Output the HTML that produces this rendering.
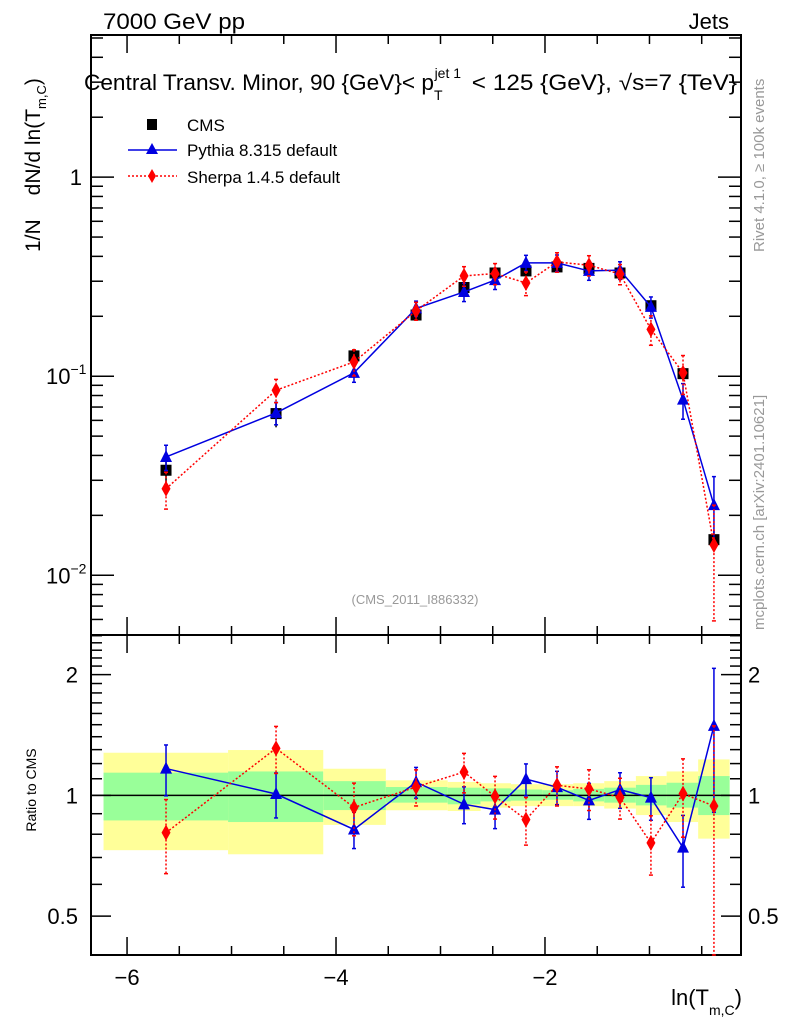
<!DOCTYPE html>
<html><head><meta charset="utf-8"><style>
html,body{margin:0;padding:0;background:#fff;}
svg{display:block;font-family:"Liberation Sans",sans-serif;}
</style></head><body>
<svg id="chart" width="786" height="1024" viewBox="0 0 786 1024" xmlns="http://www.w3.org/2000/svg">
<g id="bands"></g>
<g id="grid"></g>
<g id="marks"></g>
<text x="103" y="29" font-size="22" textLength="142" lengthAdjust="spacingAndGlyphs">7000 GeV pp</text>
<text x="729" y="29" font-size="22" text-anchor="end">Jets</text>
<text x="84" y="90" font-size="22"><tspan textLength="350" lengthAdjust="spacingAndGlyphs">Central Transv. Minor, 90 {GeV}&lt; p</tspan><tspan font-size="14" dy="10">T</tspan><tspan font-size="14" dx="-8" dy="-22">jet 1</tspan><tspan dy="12" dx="4" textLength="272" lengthAdjust="spacingAndGlyphs"> &lt; 125 {GeV}, √s=7 {TeV}</tspan></text>
<g>
 <g><rect x="147" y="119" width="10" height="11" fill="#000"/><text x="187" y="131" font-size="17">CMS</text></g>
 <g><line x1="128" y1="150" x2="177" y2="150" stroke="#0000e0" stroke-width="1.5"/><polygon points="152,143 158,154 146,154" fill="#0000e0"/><text x="187" y="156" font-size="17">Pythia 8.315 default</text></g>
 <g><line x1="128" y1="176" x2="177" y2="176" stroke="#f00" stroke-width="1.5" stroke-dasharray="2,2"/><polygon points="152,169 156,176 152,183 148,176" fill="#f00"/><text x="187" y="183" font-size="17">Sherpa 1.4.5 default</text></g>
</g>
<text x="415" y="604" font-size="13" fill="#999" text-anchor="middle">(CMS_2011_I886332)</text>
<text transform="translate(40,252) rotate(-90)" font-size="21">1/N<tspan dx="24">dN/d ln(T</tspan><tspan font-size="13" dy="6">m,C</tspan><tspan dy="-6">)</tspan></text>
<text transform="translate(36,790) rotate(-90)" font-size="14" text-anchor="middle">Ratio to CMS</text>
<text transform="translate(764,252) rotate(-90)" font-size="15" fill="#999">Rivet 4.1.0, ≥ 100k events</text>
<text transform="translate(764,630) rotate(-90)" font-size="15" fill="#999">mcplots.cern.ch [arXiv:2401.10621]</text>
<text x="742" y="1005" font-size="22" text-anchor="end">ln(T<tspan font-size="14" dy="10">m,C</tspan><tspan dy="-10">)</tspan></text>
</svg>
<script>
const xVals=[-5.627,-4.574,-3.828,-3.234,-2.775,-2.478,-2.182,-1.885,-1.579,-1.282,-0.986,-0.679,-0.383];
const binEdges=[-6.225,-5.033,-4.122,-3.523,-2.931,-2.616,-2.326,-2.025,-1.730,-1.433,-1.130,-0.836,-0.534,-0.233];
const cmsVals=[0.0337,0.0649,0.1265,0.203,0.279,0.330,0.338,0.354,0.348,0.330,0.226,0.103,0.0151];
const cmsTotUp=[1.277,1.297,1.165,1.090,1.080,1.072,1.066,1.066,1.072,1.085,1.117,1.147,1.229];
const cmsTotDn=[0.730,0.713,0.844,0.918,0.914,0.932,0.940,0.940,0.940,0.927,0.893,0.858,0.780];
const cmsStatUp=[1.139,1.147,1.085,1.049,1.045,1.041,1.034,1.030,1.038,1.045,1.062,1.075,1.117];
const cmsStatDn=[0.866,0.858,0.919,0.959,0.950,0.966,0.970,0.975,0.966,0.959,0.944,0.932,0.893];
const pythiaVals=[0.0393,0.0654,0.104,0.219,0.265,0.304,0.371,0.371,0.338,0.341,0.223,0.0763,0.0225];
const pythiaErr=[0.0057,0.0084,0.0108,0.0193,0.0279,0.0314,0.0338,0.0354,0.0348,0.0347,0.0271,0.0155,0.0088];
const sherpaVals=[0.0272,0.085,0.118,0.213,0.319,0.328,0.294,0.375,0.361,0.326,0.172,0.104,0.0142];
const sherpaErr=[0.0057,0.0114,0.0177,0.022,0.036,0.040,0.040,0.042,0.042,0.038,0.029,0.023,0.0083];
const xTicks=[-6,-4,-2];
const yTicks=[1,0.1,0.01];
const yTickLabels=["1","10","10"];
const yTickExp=["","−1","−2"];
const rTicks=[0.5,1,2];
const rTickLabels=["0.5","1","2"];

const NS="http://www.w3.org/2000/svg";
const L=91,R=741,T=35,M=635,B=955;
const xmin=-6.345,xmax=-0.124;
function X(v){return L+(v-xmin)/(xmax-xmin)*(R-L);}
const ylmin=-2.30,ylmax=0.714;
function Y(v){return M-(Math.log10(v)-ylmin)/(ylmax-ylmin)*(M-T);}
const rlmin=Math.log2(0.40),rlmax=Math.log2(2.51);
function RY(v){return B-(Math.log2(v)-rlmin)/(rlmax-rlmin)*(B-M);}
function mk(tag,attrs,parent){var e=document.createElementNS(NS,tag);for(var k in attrs)e.setAttribute(k,attrs[k]);parent.appendChild(e);return e;}
var bands=document.getElementById('bands'),grid=document.getElementById('grid'),marks=document.getElementById('marks');

for(var i=0;i<cmsVals.length;i++){
 var x0=X(binEdges[i]),x1=X(binEdges[i+1]);
 var yb=mk('rect',{x:x0,y:RY(cmsTotUp[i]),width:x1-x0,height:RY(cmsTotDn[i])-RY(cmsTotUp[i]),fill:'#ffff99'},bands);
 
 
 var gb=mk('rect',{x:x0,y:RY(cmsStatUp[i]),width:x1-x0,height:RY(cmsStatDn[i])-RY(cmsStatUp[i]),fill:'#99ff99'},bands);
 
 
}
var one=mk('line',{x1:L,x2:R,y1:RY(1),y2:RY(1),stroke:'#000','stroke-width':1.5},grid);


var f1=mk('rect',{x:L,y:T,width:R-L,height:M-T,fill:'none',stroke:'#000','stroke-width':2},grid);


var f2=mk('rect',{x:L,y:M,width:R-L,height:B-M,fill:'none',stroke:'#000','stroke-width':2},grid);


for(var k2=-13;k2<=0;k2++){
 var v=k2*0.5;
 if(v<xmin||v>xmax)continue;
 var major=(k2%4===0);
 var len=major?18:9,x=X(v);
 [[M,-1],[T,1],[B,-1],[M,1]].forEach(function(p){
  mk('line',{x1:x,x2:x,y1:p[0],y2:p[0]+p[1]*len,stroke:'#000','stroke-width':1.5},grid);
 });
}
xTicks.forEach(function(v){var t=mk('text',{x:X(v),y:985,'font-size':22,'text-anchor':'middle'},grid);t.textContent='−'+Math.abs(v);
 
 });
for(var d=-3;d<=0;d++){for(var k=1;k<=9;k++){var vv=k*Math.pow(10,d);if(vv<Math.pow(10,ylmin)||vv>Math.pow(10,ylmax))continue;
 var ln=k===1?23:12,yy=Y(vv);
 mk('line',{x1:L,x2:L+ln,y1:yy,y2:yy,stroke:'#000','stroke-width':1.5},grid);
 mk('line',{x1:R,x2:R-ln,y1:yy,y2:yy,stroke:'#000','stroke-width':1.5},grid);}}
yTicks.forEach(function(v,i){
 var t=mk('text',{x:yTickExp[i]?46:82,y:Y(v)+8,'font-size':22,'text-anchor':yTickExp[i]?'start':'end'},grid);
 t.textContent=yTickLabels[i];
 
 
 if(yTickExp[i]){var s=mk('tspan',{'font-size':14,dy:-10},grid);t.appendChild(s);s.textContent=yTickExp[i];}
});
var rminor=[0.4,0.5,0.6,0.7,0.8,0.9,1,1.1,1.2,1.3,1.4,1.5,1.6,1.7,1.8,1.9,2,2.1,2.2,2.3,2.4,2.5];
rminor.forEach(function(v){if(v<0.40||v>2.51)return;var mj=rTicks.indexOf(v)>=0;var ln=mj?20:11,y=RY(v);
 mk('line',{x1:L,x2:L+ln,y1:y,y2:y,stroke:'#000','stroke-width':1.5},grid);
 mk('line',{x1:R,x2:R-ln,y1:y,y2:y,stroke:'#000','stroke-width':1.5},grid);});
rTicks.forEach(function(v,i){
 var t=mk('text',{x:78,y:RY(v)+8,'font-size':22,'text-anchor':'end'},grid);t.textContent=rTickLabels[i];
 
 
 var t2=mk('text',{x:748,y:RY(v)+8,'font-size':22},grid);t2.textContent=rTickLabels[i];
 
 });

function clampY(y,top,bot){return Math.max(top,Math.min(bot,y));}
function series(vals,errs,color,dash,shape,ratio,name){
 var g=mk('g',{},marks);
 
 
 var yf=function(i,v){return ratio?RY(v/cmsVals[i]):Y(v);};
 var top=ratio?M:T,bot=ratio?B:M;
 var pts=vals.map(function(v,i){return X(xVals[i])+','+clampY(yf(i,v),top,bot);}).join(' ');
 var attrs={fill:'none',stroke:color,'stroke-width':1.5,points:pts};if(dash)attrs['stroke-dasharray']='2,2';
 if(shape!=='sq')mk('polyline',attrs,g);
 vals.forEach(function(v,i){
  var x=X(xVals[i]);
  var y1=clampY(yf(i,v+errs[i]),top,bot),y2=clampY(yf(i,Math.max(v-errs[i],1e-6)),top,bot);
  var ea={x1:x,x2:x,y1:y1,y2:y2,stroke:color,'stroke-width':1.5};if(dash)ea['stroke-dasharray']='2,2';
  var e=mk('line',ea,g);
  
  
  if(shape!=='sq'){mk('line',{x1:x-2,x2:x+2,y1:y1,y2:y1,stroke:color,'stroke-width':1.5},g);mk('line',{x1:x-2,x2:x+2,y1:y2,y2:y2,stroke:color,'stroke-width':1.5},g);}
  var y=yf(i,v);if(y<top||y>bot)return;
  var m;
  if(shape==='sq')m=mk('rect',{x:x-5.5,y:y-5.5,width:11,height:11,fill:color},g);
  else if(shape==='tri')m=mk('polygon',{points:x+','+(y-7)+' '+(x+6)+','+(y+5)+' '+(x-6)+','+(y+5),fill:color},g);
  else m=mk('polygon',{points:x+','+(y-8)+' '+(x+4.5)+','+y+' '+x+','+(y+8)+' '+(x-4.5)+','+y,fill:color},g);
  
  
 });
}
var cmsErr=cmsVals.map(function(v,i){return v*(cmsStatUp[i]-1);});
series(cmsVals,cmsErr,'#000',false,'sq',false,'cms-series');
series(pythiaVals,pythiaErr,'#0000e0',false,'tri',false,'pythia-series');
series(sherpaVals,sherpaErr,'#ff0000',true,'dia',false,'sherpa-series');
series(pythiaVals,pythiaErr,'#0000e0',false,'tri',true,'pythia-ratio-series');
series(sherpaVals,sherpaErr,'#ff0000',true,'dia',true,'sherpa-ratio-series');
</script>
</body></html>
